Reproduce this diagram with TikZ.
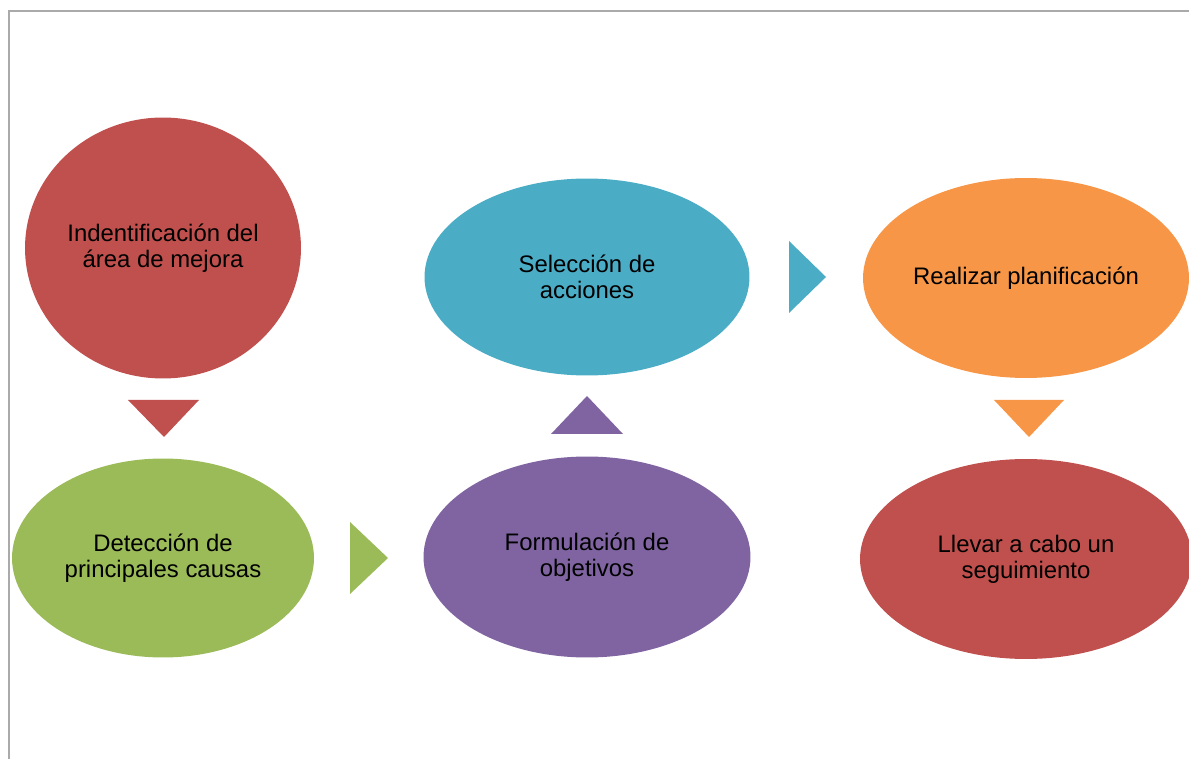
\documentclass[tikz,border=0pt]{standalone}
\usepackage{fontspec}
\setmainfont{Liberation Sans}
\usepackage{tikz}
\usetikzlibrary{shapes.geometric}
\definecolor{stepred}{RGB}{192, 80, 77}
\definecolor{stepgreen}{RGB}{155, 187, 89}
\definecolor{steppurple}{RGB}{128, 100, 162}
\definecolor{stepteal}{RGB}{75, 172, 198}
\definecolor{steporange}{RGB}{247, 150, 70}
\definecolor{framegray}{RGB}{170, 170, 170}

\begin{document}
\begin{tikzpicture}[
  x=0.02cm, y=-0.02cm,
  stage/.style={ellipse,inner sep=0pt,align=center,text=black,
                font=\fontsize{13.6}{14.6}\selectfont},
  frameline/.style={draw=framegray,line width=1.1pt}
]
  \useasboundingbox (0,0) rectangle (1189,759);
  \clip (0,0) rectangle (1189,759);
  % frame
  \draw[frameline] (9,759) -- (9,11) -- (1189,11);

  % stages
  \node[stage,fill=stepred,minimum width=5.52cm,minimum height=5.22cm]
    (area) at (163,248) {Indentificación del\\área de mejora};
  \node[stage,fill=stepgreen,minimum width=6.04cm,minimum height=3.98cm]
    (causas) at (163,558) {Detección de\\principales causas};
  \node[stage,fill=steppurple,minimum width=6.54cm,minimum height=4.02cm]
    (objetivos) at (587,557) {Formulación de\\objetivos};
  \node[stage,fill=stepteal,minimum width=6.5cm,minimum height=3.94cm]
    (acciones) at (587,277) {Selección de\\acciones};
  \node[stage,fill=steporange,minimum width=6.52cm,minimum height=4.0cm]
    (planif) at (1026,278) {Realizar planificación};
  \node[stage,fill=stepred,minimum width=6.64cm,minimum height=4.0cm]
    (seguim) at (1026,559) {Llevar a cabo un\\seguimiento};

  % arrow heads between stages
  \fill[stepred]    (128,400) -- (199,400) -- (164,437) -- cycle;
  \fill[stepgreen]  (350,522) -- (350,594) -- (388,558) -- cycle;
  \fill[steppurple] (551,434) -- (623,434) -- (587,396) -- cycle;
  \fill[stepteal]   (789,241) -- (789,313) -- (826,277) -- cycle;
  \fill[steporange] (994,400) -- (1064,400) -- (1029,437) -- cycle;
\end{tikzpicture}
\end{document}
